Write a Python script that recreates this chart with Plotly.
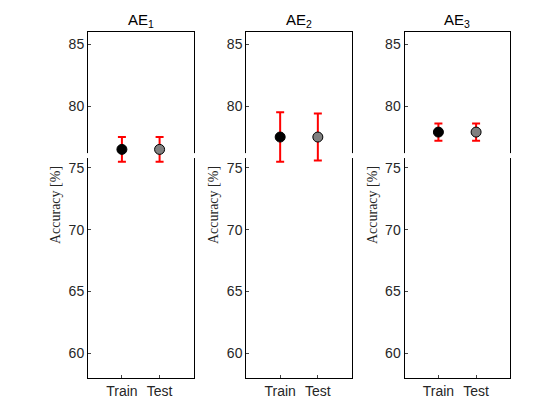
import plotly.graph_objects as go
from plotly.subplots import make_subplots

titles = ["AE<sub>1</sub>", "AE<sub>2</sub>", "AE<sub>3</sub>"]
categories = ["Train", "Test"]
means = [[76.5, 76.5], [77.5, 77.5], [77.9, 77.9]]
errs = [[1.0, 1.0], [2.0, 1.9], [0.7, 0.7]]
colors = ["black", "#808080"]

fig = make_subplots(rows=1, cols=3, horizontal_spacing=0.125)
for i in range(3):
    for j in range(2):
        fig.add_trace(go.Scatter(x=[j + 1], y=[means[i][j]], mode="markers",
            marker=dict(color=colors[j], size=10, line=dict(color="black", width=1)),
            error_y=dict(type="data", array=[errs[i][j]], color="red", thickness=2, width=4),
            showlegend=False), row=1, col=i + 1)
    fig.update_xaxes(range=[0.1, 2.9], tickvals=[1, 2], ticktext=categories, showline=True,
                     mirror=True, linecolor="black", ticks="inside", ticklen=3, showgrid=False,
                     zeroline=False, row=1, col=i + 1)
    fig.update_yaxes(range=[58, 86], tickvals=[60, 65, 70, 75, 80, 85], showline=True,
                     mirror=True, linecolor="black", ticks="inside", ticklen=3, showgrid=False,
                     zeroline=False, row=1, col=i + 1,
                     title=dict(text="Accuracy [%]", font=dict(family="Liberation Serif", size=14), standoff=4))
    ax = "" if i == 0 else str(i + 1)
    fig.add_annotation(text=titles[i], x=0.5, y=1.0, xref=f"x{ax} domain", yref="paper",
                       yanchor="bottom", showarrow=False, font=dict(size=15, color="black"))
    for xd in [0, 1]:
        fig.add_shape(type="rect", xref=f"x{ax} domain", yref=f"y{ax}",
                      x0=xd - 0.02, x1=xd + 0.02, y0=75.8, y1=76.2,
                      fillcolor="white", line=dict(width=0), layer="above")

fig.update_layout(width=560, height=420, paper_bgcolor="white", plot_bgcolor="white",
                  margin=dict(l=80, r=58, t=24, b=50),
                  font=dict(family="Liberation Sans", size=14, color="#262626"))
fig.write_html("out.html")
